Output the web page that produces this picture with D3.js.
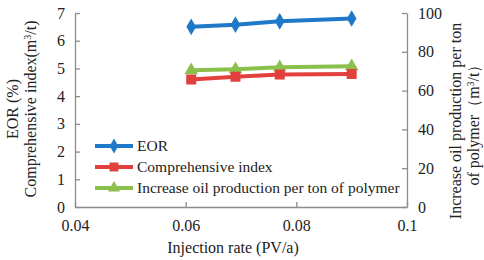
<!DOCTYPE html>
<html>
<head>
<meta charset="utf-8">
<script src="https://cdn.jsdelivr.net/npm/d3@7"></script>
<style>
  body { margin: 0; background: #fff; }
</style>
</head>
<body>
<svg id="chart" width="484" height="260"></svg>
<script>
// data
const rates = [0.061, 0.069, 0.077, 0.09];
const eor = [6.5, 6.58, 6.7, 6.8];
const compIndex = [4.6, 4.7, 4.78, 4.8];
const oilPerTon = [70.5, 71, 72, 72.5];
const xTicks = [0.04, 0.06, 0.08, 0.1];
const leftTicks = [0, 1, 2, 3, 4, 5, 6, 7];
const rightTicks = [0, 20, 40, 60, 80, 100];

const fontName = "'Liberation Serif', monospace";
const svg = d3.select("#chart");
const plotLeft = 75, plotRight = 407, plotTop = 13, plotBottom = 207;

const x = d3.scaleLinear().domain([0.04, 0.1]).range([plotLeft, plotRight]);
const yL = d3.scaleLinear().domain([0, 7]).range([plotBottom, plotTop]);
const yR = d3.scaleLinear().domain([0, 100]).range([plotBottom, plotTop]);

// axes
const axisColor = "#8c8c8c";
function styleAxis(g) {
    g.attr("font-family", null).attr("font-size", null);
    g.select(".domain").attr("stroke", axisColor).attr("stroke-width", 1.3);
    g.selectAll(".tick line").attr("stroke", axisColor).attr("stroke-width", 1.3);
    g.selectAll(".tick text")
        .style("font-family", fontName)
        .style("font-size", "16px")
        .attr("fill", "#222");
}

svg.append("g")
    .attr("transform", `translate(0,${plotBottom})`)
    .call(d3.axisBottom(x).tickValues(xTicks).tickSizeInner(-5).tickSizeOuter(0).tickPadding(13)
        .tickFormat(d => d === 0.1 ? "0.1" : d3.format(".2f")(d)))
    .call(styleAxis);

svg.append("g")
    .attr("transform", `translate(${plotLeft},0)`)
    .call(d3.axisLeft(yL).tickValues(leftTicks).tickFormat(d3.format("d")).tickSizeInner(-5).tickSizeOuter(0).tickPadding(10))
    .call(styleAxis);

svg.append("g")
    .attr("transform", `translate(${plotRight},0)`)
    .call(d3.axisRight(yR).tickValues(rightTicks).tickSizeInner(-5).tickSizeOuter(0).tickPadding(11))
    .call(styleAxis);

// axis titles
svg.append("text")
    .attr("x", 233).attr("y", 253)
    .attr("text-anchor", "middle")
    .style("font-family", fontName).style("font-size", "16px")
    .attr("fill", "#222")
    .text("Injection rate (PV/a)");

const lt = svg.append("text")
    .attr("transform", "translate(0,109) rotate(-90)")
    .attr("text-anchor", "middle")
    .style("font-family", fontName).style("font-size", "16px")
    .attr("fill", "#222");
lt.append("tspan").attr("x", 0).attr("y", 18).text("EOR (%)");
lt.append("tspan").attr("x", 0).attr("y", 36).html("Comprehensive index(m<tspan baseline-shift='super' font-size='10px'>3</tspan>/t)");

const rt = svg.append("text")
    .attr("transform", "translate(0,121) rotate(-90)")
    .attr("text-anchor", "middle")
    .style("font-family", fontName).style("font-size", "16px")
    .attr("fill", "#222");
rt.append("tspan").attr("x", 0).attr("y", 461).text("Increase oil production per ton");
rt.append("tspan").attr("x", 0).attr("y", 479).html("of polymer（m<tspan baseline-shift='super' font-size='10px'>3</tspan>/t）");

// series
const series = [
    { name: "EOR", values: eor, y: yL, color: "#1f78c8", symbol: d3.symbolDiamond, size: 80 },
    { name: "Comprehensive index", values: compIndex, y: yL, color: "#e2403c", symbol: d3.symbolSquare, size: 100 },
    { name: "Increase oil production per ton of polymer", values: oilPerTon, y: yR, color: "#8cc04c", symbol: d3.symbolTriangle, size: 80 }
];

// draw green and red first so blue sits on top like the original
[series[2], series[1], series[0]].forEach(s => {
    const pts = rates.map((r, i) => [x(r), s.y(s.values[i])]);
    svg.append("path")
        .datum(pts)
        .attr("d", d3.line())
        .attr("fill", "none")
        .attr("stroke", s.color)
        .attr("stroke-width", 4);
    svg.selectAll(null)
        .data(pts)
        .enter()
        .append("path")
        .attr("transform", d => `translate(${d[0]},${d[1]})`)
        .attr("d", d3.symbol().type(s.symbol).size(s.size))
        .attr("fill", s.color);
});

// legend
const legend = svg.append("g").attr("transform", "translate(95,146)");
series.forEach((s, i) => {
    const g = legend.append("g").attr("transform", `translate(0,${i * 21})`);
    g.append("line").attr("x1", 0).attr("x2", 38).attr("y1", 0).attr("y2", 0)
        .attr("stroke", s.color).attr("stroke-width", 4);
    g.append("path").attr("transform", "translate(19,0)")
        .attr("d", d3.symbol().type(s.symbol).size(s.size * 0.8))
        .attr("fill", s.color);
    g.append("text").attr("x", 42).attr("y", 5)
        .style("font-family", fontName).style("font-size", "15.5px")
        .attr("fill", "#222")
        .text(s.name);
});
</script>
</body>
</html>
